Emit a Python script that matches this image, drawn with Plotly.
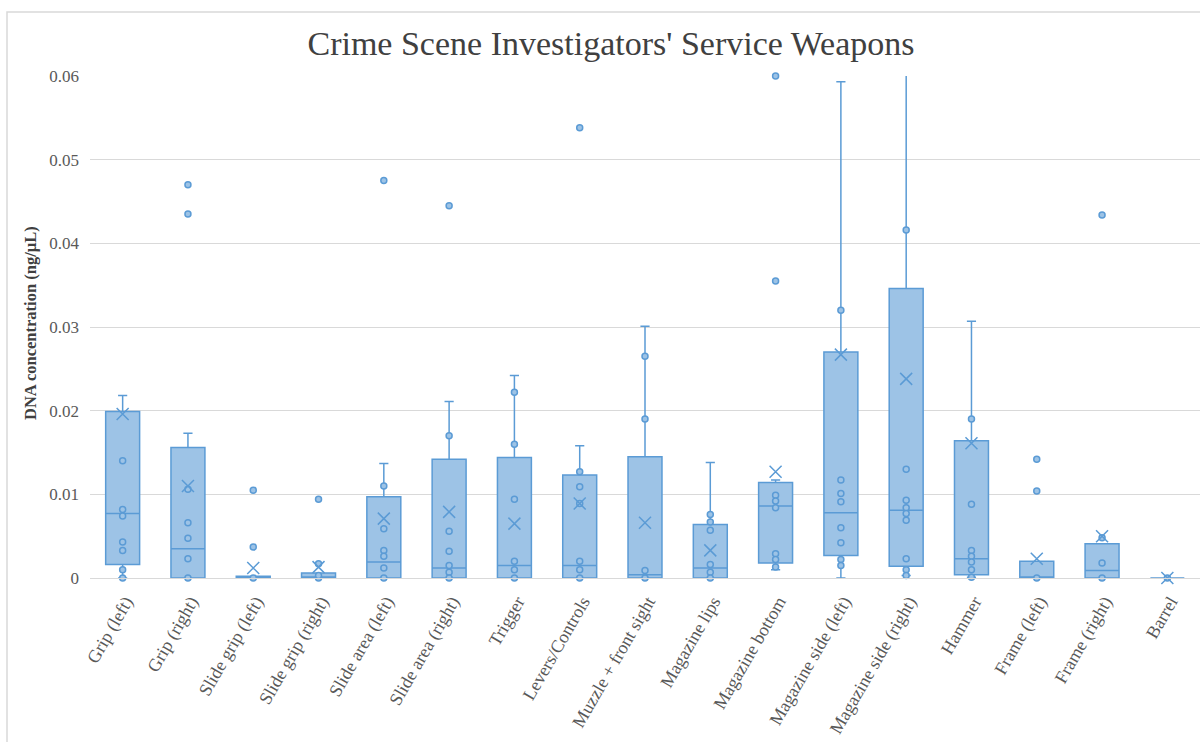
import plotly.graph_objects as go

categories = ["Grip (left)", "Grip (right)", "Slide grip (left)", "Slide grip (right)",
              "Slide area (left)", "Slide area (right)", "Trigger", "Levers/Controls",
              "Muzzle + front sight", "Magazine lips", "Magazine bottom",
              "Magazine side (left)", "Magazine side (right)", "Hammer",
              "Frame (left)", "Frame (right)", "Barrel"]

q1 =     [0.0016, 0.0,    0.0,    0.0,    0.0,    0.0,    0.0,    0.0,    0.0,    0.0,    0.0018, 0.0027, 0.0014, 0.0004, 0.0,    0.0,    0.0]
median = [0.0077, 0.0035, 0.0,    0.0,    0.0019, 0.0012, 0.0015, 0.0015, 0.0004, 0.0012, 0.0086, 0.0078, 0.0081, 0.0023, 0.0,    0.0009, 0.0]
q3 =     [0.0199, 0.0156, 0.0002, 0.0006, 0.0097, 0.0142, 0.0144, 0.0123, 0.0145, 0.0064, 0.0114, 0.0270, 0.0346, 0.0164, 0.0020, 0.0041, 0.0]
lower =  [0.0,    0.0,    0.0,    0.0,    0.0,    0.0,    0.0,    0.0,    0.0,    0.0,    0.0010, 0.0,    0.0003, 0.0001, 0.0,    0.0,    0.0]
upper =  [0.0218, 0.0173, 0.0002, 0.0006, 0.0137, 0.0211, 0.0242, 0.0158, 0.0301, 0.0138, 0.0117, 0.0593, 0.0700, 0.0307, 0.0020, 0.0041, 0.0]
means =  [0.0196, 0.0110, 0.0012, 0.0013, 0.0071, 0.0079, 0.0065, 0.0089, 0.0066, 0.0033, 0.0127, 0.0267, 0.0238, 0.0161, 0.0023, 0.0050, 0.0]

points = [
    [0.0140, 0.0082, 0.0074, 0.0043, 0.0033, 0.0010, 0.0],
    [0.0106, 0.0066, 0.00475, 0.0023, 0.0, 0.0470, 0.0435],
    [0.0, 0.0037, 0.0105],
    [0.0, 0.0003, 0.0017, 0.0094],
    [0.0110, 0.0059, 0.0033, 0.0026, 0.0012, 0.0, 0.0475],
    [0.0170, 0.0056, 0.0032, 0.0015, 0.0007, 0.0, 0.0445],
    [0.0222, 0.0160, 0.0094, 0.0020, 0.0010, 0.0],
    [0.0127, 0.0109, 0.0089, 0.0020, 0.0010, 0.0, 0.0538],
    [0.0265, 0.0190, 0.0009, 0.0],
    [0.0076, 0.0067, 0.0057, 0.0016, 0.0007, 0.0],
    [0.0099, 0.0092, 0.0084, 0.0029, 0.0022, 0.0013, 0.0355, 0.0600],
    [0.0320, 0.0117, 0.0101, 0.0091, 0.0060, 0.0042, 0.0022, 0.0015],
    [0.0416, 0.0130, 0.0093, 0.0084, 0.0077, 0.0069, 0.0023, 0.0010, 0.0003],
    [0.0190, 0.0088, 0.0033, 0.0026, 0.0019, 0.0010, 0.0001],
    [0.0, 0.0104, 0.0142],
    [0.0048, 0.0018, 0.0, 0.0434],
    [0.0],
]

LINE = "#5B9BD5"
FILL = "#9DC3E6"

fig = go.Figure()
fig.add_trace(go.Box(
    x=categories, q1=q1, median=median, q3=q3,
    lowerfence=lower, upperfence=upper,
    fillcolor=FILL, line=dict(color=LINE, width=1.5),
    width=0.52, whiskerwidth=0.27, boxpoints=False, hoverinfo="skip",
    showlegend=False,
))

px_x, px_y = [], []
for c, vals in zip(categories, points):
    for v in vals:
        px_x.append(c)
        px_y.append(v)
fig.add_trace(go.Scatter(
    x=px_x, y=px_y, mode="markers",
    marker=dict(symbol="circle", size=6, color=FILL, line=dict(color=LINE, width=1.5)),
    showlegend=False, cliponaxis=False,
))
fig.add_trace(go.Scatter(
    x=categories, y=means, mode="markers",
    marker=dict(symbol="x-thin", size=12, line=dict(color=LINE, width=1.5)),
    showlegend=False, cliponaxis=False,
))

L, R, T, B = 90, 0, 76, 164
W, H = 1200, 742
ph = H - T - B
pw = W - L - R

fig.update_layout(
    width=W, height=H,
    margin=dict(l=L, r=R, t=T, b=B, autoexpand=False),
    paper_bgcolor="white", plot_bgcolor="white",
    font=dict(family="Liberation Serif", color="#595959", size=17),
    title=dict(text="Crime Scene Investigators' Service Weapons",
               font=dict(family="Liberation Serif", size=34, color="#404040"),
               x=611 / W, xanchor="center", y=1 - 43 / H, yanchor="middle"),
    xaxis=dict(type="category", categoryorder="array", categoryarray=categories,
               range=[-0.5, len(categories) - 0.5], automargin=False,
               showgrid=False, showline=True, linecolor="#D9D9D9", linewidth=1,
               tickangle=-60, ticks="", ticklabelstandoff=5, ticklabelshift=3,
               tickfont=dict(size=18, color="#595959"),
               zeroline=False),
    yaxis=dict(range=[0, 0.06], dtick=0.01, tickformat="~g", automargin=False,
               showgrid=True, gridcolor="#D9D9D9", gridwidth=1,
               zeroline=False, showline=False, ticks="",
               ticklabelstandoff=10,
               tickfont=dict(size=17, color="#595959")),
    annotations=[dict(text="<b>DNA concentration (ng/µL)</b>", textangle=-90,
                      xref="paper", yref="paper",
                      x=(30 - L) / pw, y=(H - B - 323) / ph,
                      xanchor="center", yanchor="middle", showarrow=False,
                      font=dict(family="Liberation Serif", size=16.5, color="#404040"))],
    shapes=[dict(type="path", xref="paper", yref="paper",
                 path=f"M {(7 - L) / pw} {-(B + 5) / ph} L {(7 - L) / pw} {(H - B - 12) / ph} L {1.05} {(H - B - 12) / ph}",
                 line=dict(color="#D9D9D9", width=1.5))],
)

fig.write_html("out.html")
